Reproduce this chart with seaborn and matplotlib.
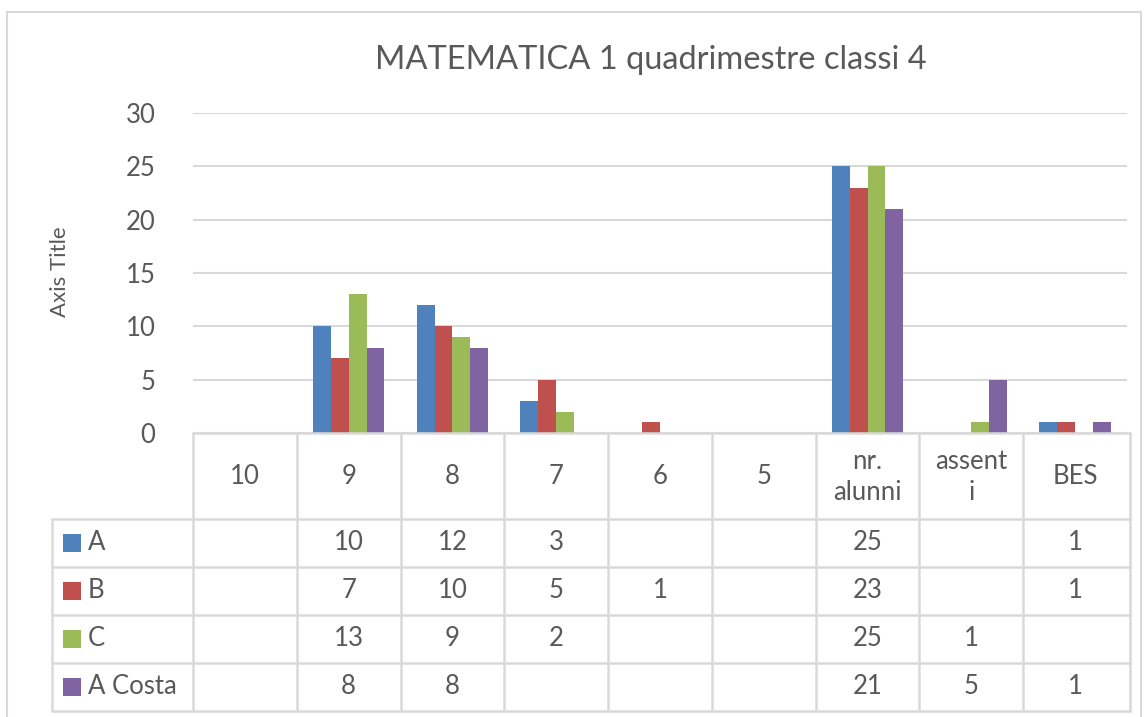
import pandas as pd
import numpy as np
import matplotlib
matplotlib.use("Agg")
import matplotlib.pyplot as plt
from matplotlib.patches import Rectangle
from matplotlib.lines import Line2D
import seaborn as sns

# data (None = blank cell)
categories = ["10", "9", "8", "7", "6", "5", "nr.\nalunni", "assent\ni", "BES"]
series = ["A", "B", "C", "A Costa"]
vals_a = [None, 10, 12, 3, None, None, 25, None, 1]
vals_b = [None, 7, 10, 5, 1, None, 23, None, 1]
vals_c = [None, 13, 9, 2, None, None, 25, 1, None]
vals_costa = [None, 8, 8, None, None, None, 21, 5, 1]
colors = ["#4F81BD", "#C0504D", "#9BBB59", "#8064A2"]

all_vals = [vals_a, vals_b, vals_c, vals_costa]
rows = []
for s, vals in zip(series, all_vals):
    for c, v in zip(categories, vals):
        rows.append({"cat": c, "serie": s, "val": np.nan if v is None else v})
df = pd.DataFrame(rows)
df["plot_val"] = df["val"].fillna(0)

sns.set_style("white")
plt.rcParams["font.family"] = ["Lato", "DejaVu Sans"]

W, H = 1148, 717
TXT = "#595959"
GRID = "#D9D9D9"
FS = 18.5

fig = plt.figure(figsize=(W / 100, H / 100), dpi=100)

def fx(x):
    return x / W

def fy(y):
    return 1 - y / H

left, right, top, bottom = 193, 1127, 113, 433
ax = fig.add_axes([fx(left), fy(bottom), (right - left) / W, (bottom - top) / H])

sns.barplot(data=df, x="cat", y="plot_val", hue="serie", order=categories,
            hue_order=series, palette=colors, width=0.69, ax=ax,
            legend=False, errorbar=None, saturation=1, linewidth=0)

ax.set_xlim(-0.5, len(categories) - 0.5)
ax.set_ylim(0, 30)
ax.set_yticks(range(0, 31, 5))
ax.yaxis.grid(True, color=GRID, lw=1.5)
ax.set_axisbelow(True)
for sp in ax.spines.values():
    sp.set_visible(False)
ax.tick_params(axis="y", length=0, labelsize=FS, labelcolor=TXT, pad=27)
ax.set_xticks([])
ax.set_xlabel("")
ax.set_ylabel("")

# title and axis title
fig.text(fx(651), fy(60), "MATEMATICA 1 quadrimestre classi 4", ha="center",
         va="center", fontsize=23.5, color=TXT)
fig.text(fx(60), fy(272), "Axis Title", rotation=90, ha="center", va="center",
         fontsize=16, color=TXT)

# chart border
fig.add_artist(Rectangle((fx(7), fy(740)), (1141 - 7) / W, (740 - 12) / H,
                         transform=fig.transFigure, fill=False, ec=GRID, lw=1.5))

# data table
col_w = (right - left) / len(categories)
table_right = 1130
header_bot = 519
row_h = 48
row_ys = [header_bot + i * row_h for i in range(len(series) + 1)]

def hline(x0, x1, y):
    fig.add_artist(Line2D([fx(x0), fx(x1)], [fy(y), fy(y)], color=GRID, lw=1.8))

def vline(x, y0, y1):
    fig.add_artist(Line2D([fx(x), fx(x)], [fy(y0), fy(y1)], color=GRID, lw=1.8))

hline(left, table_right, bottom)
for y in row_ys:
    hline(52, table_right, y)
for i in range(len(categories) + 1):
    x = left + i * col_w
    if i == len(categories):
        x = table_right
    vline(x, bottom, row_ys[-1])
vline(52, header_bot, row_ys[-1])

for i, c in enumerate(categories):
    cx = left + (i + 0.5) * col_w
    fig.text(fx(cx), fy((bottom + header_bot) / 2 + 1), c, ha="center", va="center",
             fontsize=FS, color=TXT, linespacing=1.3)

for r, (s, vals, col) in enumerate(zip(series, all_vals, colors)):
    cy = row_ys[r] + row_h / 2
    fig.add_artist(Rectangle((fx(63), fy(cy + 9)), 18 / W, 18 / H,
                             transform=fig.transFigure, color=col, lw=0))
    fig.text(fx(88), fy(cy), s, ha="left", va="center", fontsize=FS, color=TXT)
    for i, v in enumerate(vals):
        if v is None:
            continue
        cx = left + (i + 0.5) * col_w
        fig.text(fx(cx), fy(cy), str(v), ha="center", va="center",
                 fontsize=FS, color=TXT)

fig.savefig("out.png", dpi=100)
